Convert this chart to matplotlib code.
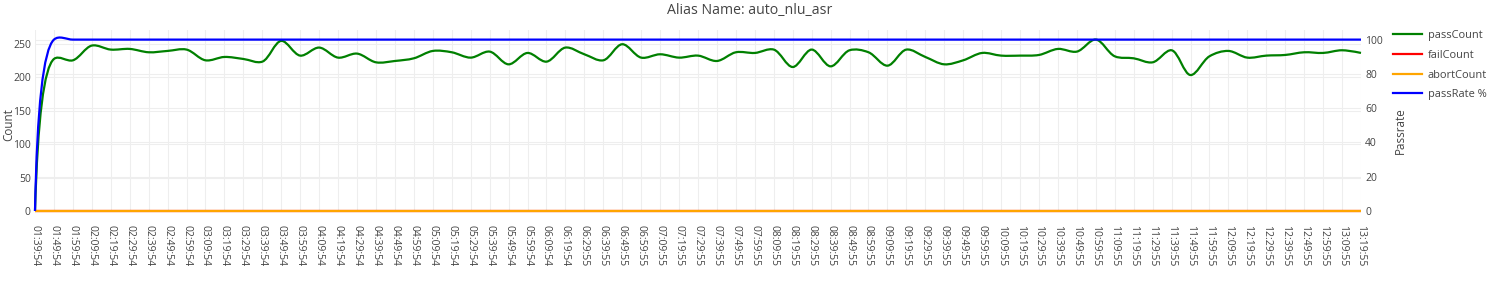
import numpy as np
import matplotlib
matplotlib.use('Agg')
import matplotlib.pyplot as plt
from matplotlib.path import Path
from matplotlib.patches import PathPatch
from matplotlib.lines import Line2D

plt.rcParams['font.family'] = ['Open Sans', 'DejaVu Sans']

times = [
    '01:39:54', '01:49:54', '01:59:54', '02:09:54', '02:19:54', '02:29:54', '02:39:54', '02:49:54',
    '02:59:54', '03:09:54', '03:19:54', '03:29:54', '03:39:54', '03:49:54', '03:59:54', '04:09:54',
    '04:19:54', '04:29:54', '04:39:54', '04:49:54', '04:59:54', '05:09:54', '05:19:54', '05:29:54',
    '05:39:54', '05:49:54', '05:59:54', '06:09:54', '06:19:54', '06:29:55', '06:39:55', '06:49:55',
    '06:59:55', '07:09:55', '07:19:55', '07:29:55', '07:39:55', '07:49:55', '07:59:55', '08:09:55',
    '08:19:55', '08:29:55', '08:39:55', '08:49:55', '08:59:55', '09:09:55', '09:19:55', '09:29:55',
    '09:39:55', '09:49:55', '09:59:55', '10:09:55', '10:19:55', '10:29:55', '10:39:55', '10:49:55',
    '10:59:55', '11:09:55', '11:19:55', '11:29:55', '11:39:55', '11:49:55', '11:59:55', '12:09:55',
    '12:19:55', '12:29:55', '12:39:55', '12:49:55', '12:59:55', '13:09:55', '13:19:55',
]

pass_count = [
    0, 227, 225, 247, 241, 242, 237, 239, 241, 225, 230, 227, 223, 254, 232, 244,
    229, 235, 222, 224, 228, 239, 237, 229, 238, 219, 236, 223, 244, 234, 225, 249,
    229, 234, 229, 232, 224, 237, 236, 241, 215, 241, 216, 240, 237, 217, 241, 230,
    219, 225, 236, 232, 232, 233, 242, 238, 256, 231, 228, 222, 240, 203, 231, 239,
    229, 232, 233, 237, 236, 240, 236,
]

fail_count = [
    0, 0, 0, 0, 0, 0, 0, 0, 0, 0, 0, 0, 0, 0, 0, 0,
    0, 0, 0, 0, 0, 0, 0, 0, 0, 0, 0, 0, 0, 0, 0, 0,
    0, 0, 0, 0, 0, 0, 0, 0, 0, 0, 0, 0, 0, 0, 0, 0,
    0, 0, 0, 0, 0, 0, 0, 0, 0, 0, 0, 0, 0, 0, 0, 0,
    0, 0, 0, 0, 0, 0, 0,
]

abort_count = [
    0, 0, 0, 0, 0, 0, 0, 0, 0, 0, 0, 0, 0, 0, 0, 0,
    0, 0, 0, 0, 0, 0, 0, 0, 0, 0, 0, 0, 0, 0, 0, 0,
    0, 0, 0, 0, 0, 0, 0, 0, 0, 0, 0, 0, 0, 0, 0, 0,
    0, 0, 0, 0, 0, 0, 0, 0, 0, 0, 0, 0, 0, 0, 0, 0,
    0, 0, 0, 0, 0, 0, 0,
]

pass_rate = [
    0, 100, 100, 100, 100, 100, 100, 100, 100, 100, 100, 100, 100, 100, 100, 100,
    100, 100, 100, 100, 100, 100, 100, 100, 100, 100, 100, 100, 100, 100, 100, 100,
    100, 100, 100, 100, 100, 100, 100, 100, 100, 100, 100, 100, 100, 100, 100, 100,
    100, 100, 100, 100, 100, 100, 100, 100, 100, 100, 100, 100, 100, 100, 100, 100,
    100, 100, 100, 100, 100, 100, 100,
]

TXT = '#444444'
GRID = '#eeeeee'
FS = 7.5


def smooth_path(xs, ys, trans):
    # plotly style spline (catmull-rom tangents) built as bezier segments
    pts = trans.transform(np.column_stack([xs, ys]))
    n = len(pts)
    tans = []
    for i in range(1, n - 1):
        d1 = pts[i - 1] - pts[i]
        d2 = pts[i + 1] - pts[i]
        a1 = np.hypot(*d1) ** 0.5
        a2 = np.hypot(*d2) ** 0.5
        num = a2 * a2 * d1 - a1 * a1 * d2
        den1 = 3 * a2 * (a1 + a2)
        den2 = 3 * a1 * (a1 + a2)
        c_in = pts[i] + (num / den1 if den1 else 0)
        c_out = pts[i] - (num / den2 if den2 else 0)
        tans.append((c_in, c_out))
    verts = [pts[0], tans[0][0], pts[1]]
    codes = [Path.MOVETO, Path.CURVE3, Path.CURVE3]
    for i in range(2, n - 1):
        verts += [tans[i - 2][1], tans[i - 1][0], pts[i]]
        codes += [Path.CURVE4] * 3
    verts += [tans[n - 3][1], pts[n - 1]]
    codes += [Path.CURVE3] * 2
    return Path(trans.inverted().transform(np.array(verts)), codes)


fig = plt.figure(figsize=(15, 3), dpi=100)
ax = fig.add_axes([35 / 1500, 89 / 300, 1326 / 1500, 181.5 / 300])
ax2 = ax.twinx()
ax.set_zorder(2)
ax2.set_zorder(1)
ax.patch.set_visible(False)

x = np.arange(len(times))
ax.set_xlim(0, len(times) - 1)
ax.set_ylim(0, 271)
ax2.set_ylim(0, 105.9)

for a in (ax, ax2):
    for s in a.spines.values():
        s.set_visible(False)

ax.set_xticks(x)
ax.set_xticklabels(times, rotation=-90, fontsize=FS, color=TXT)
ax.set_yticks([0, 50, 100, 150, 200, 250])
ax2.set_yticks([0, 20, 40, 60, 80, 100])
ax.tick_params(axis='x', length=0, pad=10)
ax.tick_params(axis='y', length=0, pad=3, labelsize=FS, labelcolor=TXT)
ax2.tick_params(axis='y', length=0, pad=3, labelsize=FS, labelcolor=TXT)

ax.grid(True, color=GRID, lw=0.8)
ax.set_axisbelow(True)
ax2.grid(True, axis='y', color=GRID, lw=0.8)

series = [
    ('passCount', pass_count, 'green', ax),
    ('failCount', fail_count, 'red', ax),
    ('abortCount', abort_count, 'orange', ax),
    ('passRate %', pass_rate, 'blue', ax2),
]
handles = []
for name, vals, col, a in series:
    p = PathPatch(smooth_path(x, vals, a.transData), facecolor='none', edgecolor=col,
                  lw=1.6, transform=a.transData, clip_on=False)
    ax.add_patch(p)
    handles.append(Line2D([], [], color=col, lw=1.6, label=name))

fig.text(0.5, 1 - 10 / 300, 'Alias Name: auto_nlu_asr', ha='center', va='center',
         fontsize=10.2, color=TXT)
fig.text(9 / 1500, 1 - 125 / 300, 'Count', rotation=90, ha='center', va='center',
         fontsize=8.4, color=TXT)
fig.text(1400 / 1500, 1 - 131 / 300, 'Passrate', rotation=90, ha='center', va='center',
         fontsize=8.4, color=TXT)

fig.legend(handles=handles, loc='upper left', bbox_to_anchor=(1393 / 1500, 1 - 30 / 300),
           frameon=False, fontsize=7.9, handlelength=2.6, handletextpad=0.55,
           labelspacing=0.8, borderaxespad=0, borderpad=0, labelcolor=TXT)

fig.savefig('out.png', dpi=100)
